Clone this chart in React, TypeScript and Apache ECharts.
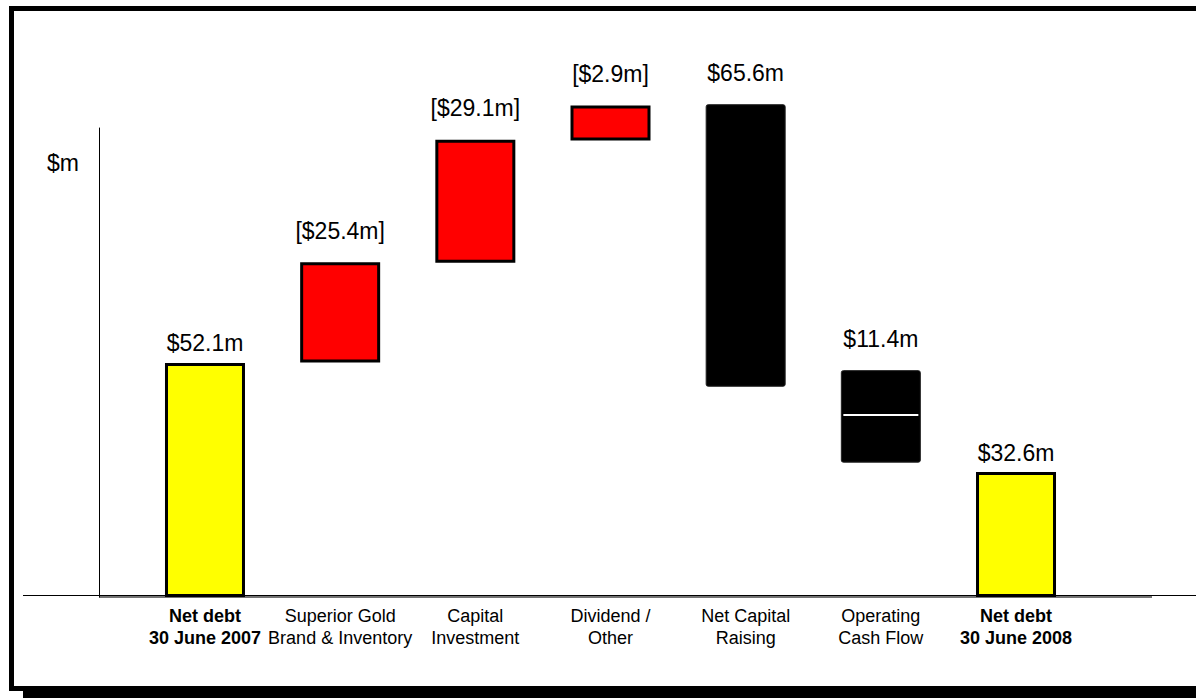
import React, { useEffect, useRef } from "react";
import * as echarts from "echarts";

// Categories (x-axis labels)
const categories: string[] = [
  "Net debt\n30 June 2007",
  "Superior Gold\nBrand & Inventory",
  "Capital\nInvestment",
  "Dividend /\nOther",
  "Net Capital\nRaising",
  "Operating\nCash Flow",
  "Net debt\n30 June 2008",
];
const boldCategories: boolean[] = [true, false, false, false, false, false, true];

// Bar extents as drawn in the picture ($m, on the picture's own scale)
const barLow: number[] = [0, 52.2, 74.4, 101.6, 46.8, 29.9, 0];
const barHigh: number[] = [52.1, 74.5, 101.8, 109.4, 109.7, 50.5, 27.8];

// Value labels printed above the bars
const valueLabels: string[] = ["$52.1m", "[$25.4m]", "[$29.1m]", "[$2.9m]", "$65.6m", "$11.4m", "$32.6m"];

// Bar kind: total / decrease / increase
const barKind: string[] = ["total", "down", "down", "down", "up", "up", "total"];

// White divider line inside the "Operating Cash Flow" bar
const dividerPoints: [number, number][] = [[5, 40.5]];

const yMax = 104.4;

const FONT = "'Liberation Sans', Arial, Helvetica, sans-serif";

const kindColor: Record<string, string> = {
  total: "#FFFF00",
  down: "#FF0000",
  up: "#000000",
};

export default function App() {
  const ref = useRef<HTMLDivElement>(null);

  useEffect(() => {
    if (!ref.current) return;
    document.body.style.overflow = "hidden";
    const chart = echarts.init(ref.current, null, { renderer: "svg" });

    const gridLeft = 137.4;
    const gridTop = 128;
    const gridBottom = 101;
    const gridRight = 112.4;

    const baseData = barLow.map((v) => v);
    const sizeData = barHigh.map((h, i) => {
      const kind = barKind[i];
      return {
        value: +(h - barLow[i]).toFixed(2),
        itemStyle: {
          color: kindColor[kind],
          borderColor: kind === "up" ? "#222" : "#000",
          borderWidth: kind === "up" ? 1 : 3,
          borderRadius: kind === "up" ? 2 : 0,
        },
        label: {
          distance: kind === "total" ? 8 : 20,
        },
      };
    });

    const option: any = {
      animation: false,
      backgroundColor: "#ffffff",
      grid: {
        left: gridLeft,
        right: gridRight,
        top: gridTop,
        bottom: gridBottom,
        containLabel: false,
      },
      xAxis: {
        type: "category",
        data: categories,
        boundaryGap: true,
        axisLine: { show: false },
        axisTick: { show: false },
        splitLine: { show: false },
        axisLabel: {
          interval: 0,
          margin: 8,
          color: "#000",
          fontFamily: FONT,
          fontSize: 18,
          lineHeight: 22,
          formatter: (val: string, idx: number) => {
            const lines = val.split("\n");
            const key = boldCategories[idx] ? "b" : "n";
            return lines.map((l) => `{${key}|${l}}`).join("\n");
          },
          rich: {
            b: { fontFamily: FONT, fontSize: 18, fontWeight: "bold", lineHeight: 22, color: "#000" },
            n: { fontFamily: FONT, fontSize: 18, lineHeight: 22, color: "#000" },
          },
        },
      },
      yAxis: {
        type: "value",
        min: 0,
        max: yMax,
        offset: gridLeft - 99,
        axisLine: { show: true, lineStyle: { color: "#000", width: 1 } },
        axisTick: { show: false },
        axisLabel: { show: false },
        splitLine: { show: false },
      },
      series: [
        {
          type: "bar",
          stack: "wf",
          data: baseData,
          barWidth: 80,
          itemStyle: { color: "transparent", borderWidth: 0 },
          emphasis: { disabled: true },
          silent: true,
          clip: false,
        },
        {
          type: "bar",
          stack: "wf",
          data: sizeData,
          barWidth: 80,
          clip: false,
          label: {
            show: true,
            position: "top",
            color: "#000",
            fontFamily: FONT,
            fontSize: 23,
            formatter: (p: any) => valueLabels[p.dataIndex],
          },
        },
        {
          type: "scatter",
          data: dividerPoints,
          symbol: "rect",
          symbolSize: [75, 2],
          itemStyle: { color: "#ffffff", opacity: 1 },
          z: 5,
          silent: true,
        },
      ],
      graphic: [
        {
          type: "rect",
          shape: { x: 11.5, y: 8.5, width: 1200, height: 680 },
          style: { fill: "transparent", stroke: "#000", lineWidth: 5 },
          silent: true,
        },
        {
          type: "rect",
          shape: { x: 23, y: 690, width: 1180, height: 10 },
          style: { fill: "#000" },
          silent: true,
        },
        {
          type: "line",
          shape: { x1: 23, y1: 595.5, x2: 1196, y2: 595.5 },
          style: { stroke: "#000", lineWidth: 1 },
          silent: true,
        },
        {
          type: "line",
          shape: { x1: 99, y1: 597, x2: 1152, y2: 597 },
          style: { stroke: "#444", lineWidth: 1.5 },
          silent: true,
        },
        {
          type: "text",
          x: 47,
          y: 163,
          style: {
            text: "$m",
            fill: "#000",
            font: `23px ${FONT}`,
            textVerticalAlign: "middle",
          },
          silent: true,
        },
      ],
    };

    chart.setOption(option);
    return () => chart.dispose();
  }, []);

  return (
    <div
      ref={ref}
      style={{
        position: "absolute",
        left: 0,
        top: 0,
        width: 1196,
        height: 698,
        background: "#fff",
        overflow: "hidden",
      }}
    />
  );
}
